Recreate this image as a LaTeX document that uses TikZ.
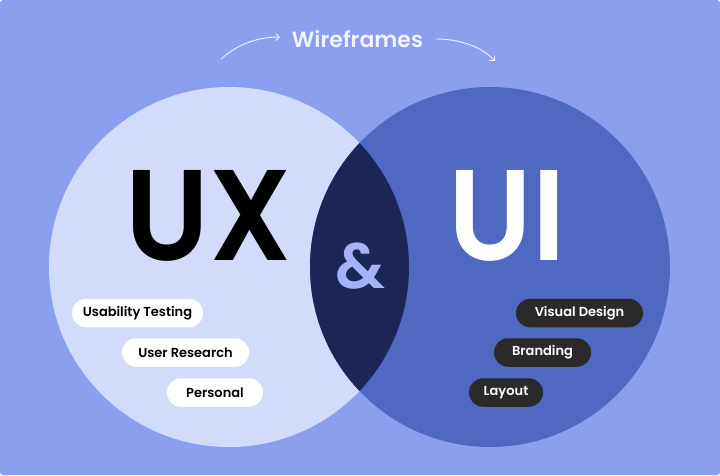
\documentclass[tikz,border=0pt]{standalone}
\usepackage{fontspec}
\setmainfont{Poppins}[BoldFont={Poppins SemiBold}]
\usetikzlibrary{arrows.meta}
\definecolor{bg}{HTML}{8AA0EF}
\definecolor{lc}{HTML}{D3DBFB}
\definecolor{rc}{HTML}{4F68C2}
\definecolor{lens}{HTML}{1B2656}
\definecolor{amp}{HTML}{A3B3F5}
\definecolor{pilldark}{HTML}{2A2A2A}
\definecolor{wf}{HTML}{F0F3FF}
\begin{document}
\begin{tikzpicture}[x=1pt,y=-1pt,
  pill/.style={rectangle, rounded corners=14pt, minimum height=28.5pt, inner sep=0pt,
    font=\bfseries\fontsize{13}{13}\selectfont, anchor=center},
  lightpill/.style={pill, fill=white, text=black},
  darkpill/.style={pill, fill=pilldark, text=white},
  flow/.style={draw=wf, line width=0.9pt, -{Straight Barb[length=3.5pt,width=7pt]}},
  big/.style={inner sep=0pt, anchor=base, font=\bfseries\fontsize{129}{129}\selectfont}]
\useasboundingbox (0,0) rectangle (720,475);
\fill[white] (0,0) rectangle (720,475);
\fill[bg, rounded corners=3pt] (0,0) rectangle (720,475);
% circles
\fill[lc] (229,267) circle (180pt);
\fill[rc] (490,267) circle (180pt);
\begin{scope}
  \clip (229,267) circle (180pt);
  \fill[lens] (490,267) circle (180pt);
\end{scope}
% big letters
\begin{scope}[shift={(208.5,260)}, xscale=0.93]
  \node[big, text=black, transform shape] (ux) at (0,0) {UX};
\end{scope}
\begin{scope}[shift={(507,260)}, xscale=0.93]
  \node[big, text=white, transform shape] (ui) at (0,0) {UI};
\end{scope}
\node[inner sep=0pt, anchor=base, text=amp, font=\bfseries\fontsize{64}{64}\selectfont] (amp) at (360,288) {\&};
% wireframes
\node[inner sep=0pt, anchor=base, text=wf, font=\bfseries\fontsize{22}{22}\selectfont] (wf) at (357.5,47.5) {Wireframes};
\coordinate (a1s) at (221,59);
\coordinate (a1e) at (280,37);
\coordinate (a2s) at (436,39);
\coordinate (a2e) at (495,61);
\draw[flow] (a1s) .. controls (238,44) and (258,37) .. (a1e);
\draw[flow] (a2s) .. controls (460,39) and (482,47) .. (a2e);
% pills
\node[lightpill, minimum width=131pt] (p1) at (137.5,313) {Usability Testing};
\node[lightpill, minimum width=127pt] (p2) at (185.5,352.5) {User Research};
\node[lightpill, minimum width=96pt] (p3) at (215,392.5) {Personal};
\node[darkpill, minimum width=127pt] (q1) at (579.5,313) {Visual Design};
\node[darkpill, minimum width=97pt] (q2) at (542.5,352.5) {Branding};
\node[darkpill, minimum width=74pt] (q3) at (506,392.5) {Layout};
\end{tikzpicture}
\end{document}
